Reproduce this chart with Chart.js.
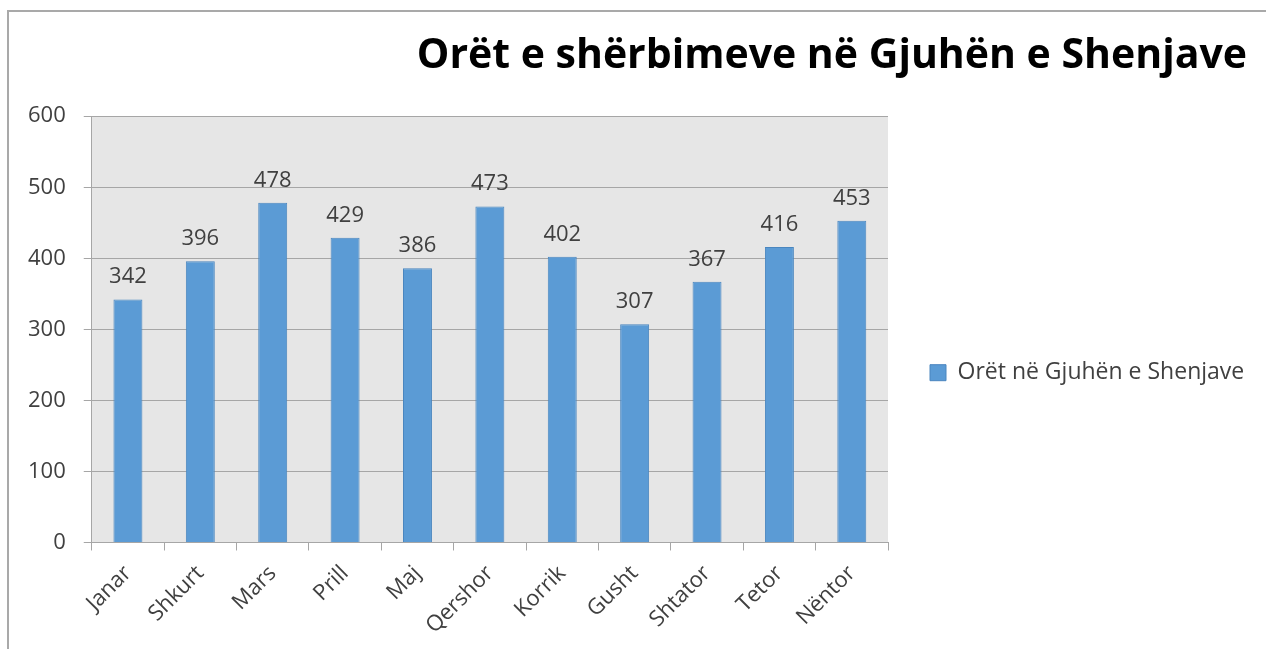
<!DOCTYPE html>
<html>
<head>
<meta charset="utf-8">
<script src="https://cdn.jsdelivr.net/npm/chart.js"></script>
<style>
  body { margin: 0; background: #fff; }
  #wrap { position: absolute; left: 0; top: 0; width: 1266px; height: 649px; }
  #frame { position: absolute; left: 7px; top: 10px; right: 0; bottom: 0;
           border-top: 2px solid #a9a9a9; border-left: 2px solid #a9a9a9; }
</style>
</head>
<body>
<div id="frame"></div>
<div id="wrap"><canvas id="myChart"></canvas></div>
<script>
// te dhenat
var muajt = ["Janar", "Shkurt", "Mars", "Prill", "Maj", "Qershor", "Korrik", "Gusht", "Shtator", "Tetor", "Nëntor"];
var oret = [342, 396, 478, 429, 386, 473, 402, 307, 367, 416, 453];
var titulli = "Orët e shërbimeve në Gjuhën e Shenjave";
var emriSerise = "Orët në Gjuhën e Shenjave";

var fonti = "'Open Sans', 'Noto Sans', sans-serif";

// sfondi gri i zones se grafikut
var sfondi = {
  id: "sfondi",
  beforeDraw: function(chart) {
    var a = chart.chartArea;
    var ctx = chart.ctx;
    ctx.save();
    ctx.fillStyle = "#e6e6e6";
    ctx.fillRect(a.left, a.top, a.right - a.left, a.bottom - a.top);
    ctx.restore();
  }
};

// vlerat mbi shtylla
var etiketat = {
  id: "etiketat",
  afterDatasetsDraw: function(chart) {
    var ctx = chart.ctx;
    var meta = chart.getDatasetMeta(0);
    ctx.save();
    ctx.font = "22px " + fonti;
    ctx.fillStyle = "#404040";
    ctx.textAlign = "center";
    ctx.textBaseline = "alphabetic";
    meta.data.forEach(function(bar, i) {
      ctx.fillText(chart.data.datasets[0].data[i], bar.x, bar.y - 16);
    });
    ctx.restore();
  }
};

// legjenda me e gjere se kufiri i zakonshem
var gjeresiaLegjendes = {
  id: "gjeresiaLegjendes",
  beforeInit: function(chart) {
    var fitOrig = chart.legend.fit;
    chart.legend.fit = function() {
      fitOrig.call(this);
      this.width = 359;
    };
  }
};

var chart = new Chart("myChart", {
  type: "bar",
  data: {
    labels: muajt,
    datasets: [{
      label: emriSerise,
      data: oret,
      backgroundColor: "#5b9bd5",
      borderColor: "#4a86bf",
      borderWidth: 1,
      barPercentage: 0.4,
      categoryPercentage: 1
    }]
  },
  options: {
    responsive: true,
    maintainAspectRatio: false,
    animation: false,
    layout: { padding: { left: 10, right: 19, top: 0, bottom: 0 } },
    scales: {
      x: {
        grid: { drawOnChartArea: false, drawTicks: true, tickLength: 8, color: "#a6a6a6" },
        border: { color: "#a6a6a6" },
        ticks: { color: "#404040", font: { size: 22, family: fonti }, minRotation: 45, maxRotation: 45, padding: 10 }
      },
      y: {
        min: 0,
        max: 600,
        grid: { color: "#a6a6a6", tickLength: 8 },
        border: { color: "#a6a6a6" },
        ticks: { stepSize: 100, color: "#404040", font: { size: 22, family: fonti }, padding: 18 }
      }
    },
    plugins: {
      title: {
        display: true,
        text: titulli,
        align: "end",
        color: "#000",
        font: { size: 41, weight: "bold", family: fonti },
        padding: { top: 32, bottom: 35 }
      },
      legend: {
        display: true,
        position: "right",
        title: { display: true, text: "", padding: { top: 82, bottom: 0 } },
        labels: {
          color: "#404040",
          font: { size: 23, family: fonti },
          boxWidth: 16,
          boxHeight: 16,
          padding: 42
        }
      },
      tooltip: { enabled: false }
    }
  },
  plugins: [sfondi, etiketat, gjeresiaLegjendes]
});
</script>
</body>
</html>
